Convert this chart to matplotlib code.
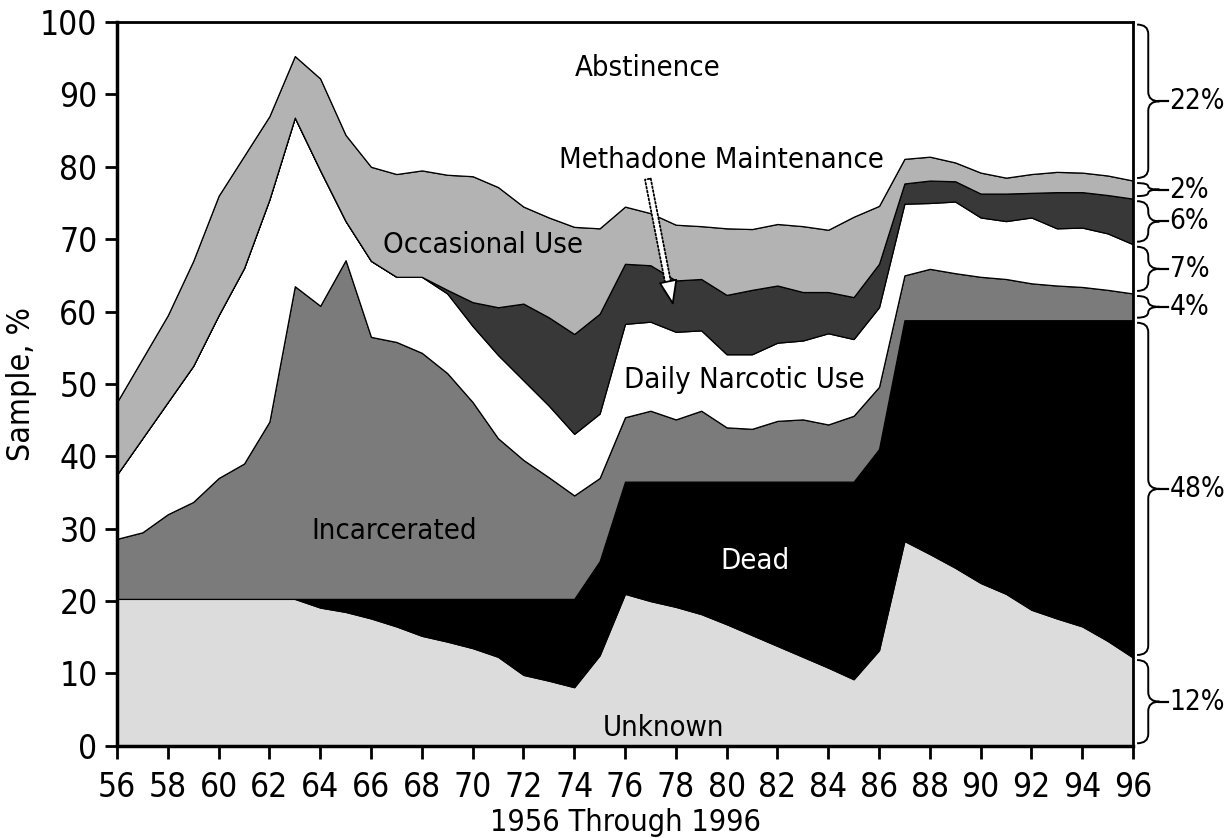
import numpy as np
import matplotlib
matplotlib.use("Agg")
import matplotlib.pyplot as plt
from matplotlib import font_manager
from matplotlib.path import Path
from matplotlib.patches import PathPatch
import matplotlib.transforms as mtransforms

# the original uses a narrow sans; take condensed DejaVu if the system has it
narrow = [f for f in font_manager.fontManager.ttflist
          if f.name == 'DejaVu Sans' and 'Condensed' in f.fname
          and f.style == 'normal' and f.weight in (400, 'normal')]
if narrow:
    plt.rcParams['font.family'] = ['DejaVu Sans']
    plt.rcParams['font.stretch'] = narrow[0].stretch
else:
    plt.rcParams['font.family'] = ['Liberation Sans', 'DejaVu Sans']

years = np.arange(1956, 1997)

# upper edge of each band (cumulative %)
unknown_top = [20.3, 20.3, 20.3, 20.3, 20.3, 20.3, 20.3, 20.3,
               19.1, 18.5, 17.6, 16.5, 15.2, 14.4, 13.5, 12.3, 9.8, 9.0, 8.1,
               12.5,
               21.0, 20.0, 19.2, 18.2, 16.8, 15.3, 13.8, 12.3, 10.8, 9.2, 13.2,
               28.3, 26.5, 24.6, 22.5, 21.0, 18.8, 17.6, 16.5, 14.5, 12.2]
dead_top = [20.3] * 19 + [25.5] + [36.5] * 10 + [41.0] + [58.8] * 10
incarcerated_top = [28.6, 29.5, 32.0, 33.7, 37.0, 39.0, 44.8, 63.5, 60.8, 67.1,
                    56.5, 55.8, 54.3, 51.5, 47.5, 42.5, 39.5, 37.1, 34.6, 37.0,
                    45.4, 46.3, 45.1, 46.3, 44.0, 43.8, 44.9, 45.1, 44.4, 45.6,
                    49.6, 65.0, 65.9, 65.3, 64.8, 64.5, 63.9, 63.6, 63.4, 63.0,
                    62.5]
daily_top = [37.5, 42.5, 47.5, 52.5, 59.5, 66.0, 75.5, 86.8, 79.5, 72.5,
             67.0, 64.8, 64.8, 62.5, 58.0, 54.0, 50.5, 47.0, 43.1, 45.9,
             58.3, 58.6, 57.2, 57.4, 54.1, 54.1, 55.7, 56.0, 57.0, 56.2,
             60.6, 74.9, 75.0, 75.2, 73.0, 72.5, 73.0, 71.5, 71.6, 70.8,
             69.3]
methadone_top = [37.5, 42.5, 47.5, 52.5, 59.5, 66.0, 75.5, 86.8, 79.5, 72.5,
                 67.0, 64.8, 64.8, 63.0, 61.3, 60.6, 61.1, 59.2, 56.9, 59.7,
                 66.6, 66.4, 64.3, 64.5, 62.3, 63.0, 63.6, 62.7, 62.7, 62.0,
                 66.6, 77.7, 78.1, 78.0, 76.3, 76.3, 76.4, 76.5, 76.5, 76.1,
                 75.6]
occasional_top = [47.5, 53.5, 59.5, 67.0, 76.0, 81.5, 87.0, 95.3, 92.2, 84.4,
                  80.0, 79.0, 79.5, 78.9, 78.7, 77.2, 74.5, 73.0, 71.7, 71.5,
                  74.5, 73.6, 72.0, 71.8, 71.5, 71.4, 72.1, 71.8, 71.3, 73.1,
                  74.6, 81.1, 81.4, 80.6, 79.2, 78.5, 79.0, 79.3, 79.2, 78.8,
                  78.1]
abstinence_top = [100.0] * 41

groups = ['Unknown', 'Dead', 'Incarcerated', 'Daily Narcotic Use',
          'Methadone Maintenance', 'Occasional Use', 'Abstinence']
colors = ['#dcdcdc', '#000000', '#7b7b7b', '#ffffff', '#383838', '#b3b3b3', '#ffffff']
end_pct = ['12%', '48%', '4%', '7%', '6%', '2%', '22%']

tops = np.array([unknown_top, dead_top, incarcerated_top, daily_top,
                 methadone_top, occasional_top, abstinence_top])
shares = np.diff(np.vstack([np.zeros(len(years)), tops]), axis=0)

fig = plt.figure(figsize=(12.29, 8.38), dpi=100)
ax = fig.add_axes([0.0952, 0.110, 0.8267, 0.8637])

ax.stackplot(years, shares, colors=colors, edgecolor='black', linewidth=0.9)

ax.set_xlim(1956, 1996)
ax.set_ylim(0, 100)
ax.set_xticks(years[::2])
ax.set_xticklabels([str(y)[2:] for y in years[::2]])
ax.set_yticks(range(0, 101, 10))
ax.tick_params(direction='out', length=9, width=2, labelsize=24)
ax.tick_params(axis='x', pad=9)
ax.tick_params(axis='y', pad=5)
for s in ax.spines.values():
    s.set_linewidth(2)
ax.spines['left'].set_linewidth(2.5)
ax.spines['bottom'].set_linewidth(2.5)
ax.set_ylabel('Sample, %', fontsize=23, labelpad=2)
ax.set_xlabel('1956 Through 1996', fontsize=22)
ax.xaxis.set_label_coords(0.5, -0.086)

# band labels
lab = dict(fontsize=21, ha='center', va='center')
ax.text(1976.9, 93.6, 'Abstinence', **lab)
ax.text(1970.4, 69.2, 'Occasional Use', **lab)
ax.text(1980.7, 50.5, 'Daily Narcotic Use', **lab)
ax.text(1966.9, 29.7, 'Incarcerated', **lab)
ax.text(1981.1, 25.6, 'Dead', color='white', **lab)
ax.text(1977.5, 0.5, 'Unknown', fontsize=21, ha='center', va='bottom')
ax.text(1979.8, 81.0, 'Methadone Maintenance', **lab)

# dotted hollow arrow to the methadone band
ax.annotate('', xy=(1977.75, 63.0), xytext=(1976.9, 78.3),
            arrowprops=dict(arrowstyle='simple,head_length=0.01,head_width=0.6,tail_width=0.35',
                            fc='white', ec='black', lw=1.3, ls=(0, (1, 1.2)),
                            shrinkA=0, shrinkB=0, mutation_scale=12))
ax.annotate('', xy=(1977.9, 60.8), xytext=(1977.72, 63.8),
            arrowprops=dict(arrowstyle='-|>,head_length=1.6,head_width=0.6',
                            fc='white', ec='black', lw=1.3,
                            shrinkA=0, shrinkB=0))

# braces on the right for the 1996 distribution
trans = mtransforms.blended_transform_factory(ax.transAxes, ax.transData)
bottoms = np.concatenate([[0.0], tops[:-1, -1]])
for lo, hi, txt in zip(bottoms, tops[:, -1], end_pct):
    y0, y1 = lo + 0.35, hi - 0.35
    ym = (y0 + y1) / 2
    r = min(1.3, (y1 - y0) / 4)
    xs, xw, xt = 1.004, 1.015, 1.026
    verts = [(xs, y1), (xw, y1), (xw, y1 - r),
             (xw, ym + r),
             (xw, ym), (xt, ym),
             (xw, ym), (xw, ym - r),
             (xw, y0 + r),
             (xw, y0), (xs, y0)]
    codes = [Path.MOVETO, Path.CURVE3, Path.CURVE3,
             Path.LINETO,
             Path.CURVE3, Path.CURVE3,
             Path.CURVE3, Path.CURVE3,
             Path.LINETO,
             Path.CURVE3, Path.CURVE3]
    ax.add_patch(PathPatch(Path(verts, codes), transform=trans, fill=False,
                           ec='black', lw=1.4, clip_on=False))
    ax.plot([xt, xt + 0.008], [ym, ym], transform=trans, color='black',
            lw=1.6, clip_on=False)
    ax.text(xt + 0.01, ym, txt, transform=trans, fontsize=20,
            ha='left', va='center', clip_on=False)

fig.savefig('out.png', dpi=100)
